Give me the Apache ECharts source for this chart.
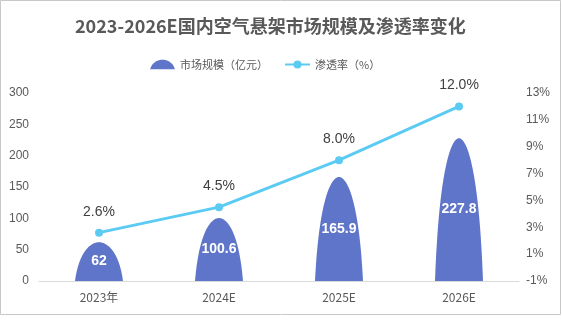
<!DOCTYPE html>
<html><head><meta charset="utf-8">
<script src="https://cdn.jsdelivr.net/npm/echarts@6/dist/echarts.min.js"></script>
<style>html,body{margin:0;padding:0;background:#fff}#c{width:562px;height:324px}</style>
</head><body><div id="c"></div>
<script>
const categories = ['2023年', '2024E', '2025E', '2026E'];
const marketSize = [62, 100.6, 165.9, 227.8];
const penetration = [2.6, 4.5, 8.0, 12.0];
const leftTicks = { min: 0, max: 300, interval: 50 };
const rightTicks = { min: -1, max: 13, interval: 2 };

const mountain = 'path://M0,100 C8,25 32,0 50,0 C68,0 92,25 100,100 Z';
const legendMountain = 'path://M0,38 C10,8 32,0 50,0 C68,0 90,8 100,38 Z';
const chart = echarts.init(document.getElementById('c'));
chart.setOption({
  animation: false,
  title: {
    text: '2023-2026E国内空气悬架市场规模及渗透率变化',
    left: 70, top: 12,
    textStyle: { fontFamily: 'Noto Sans CJK SC', fontSize: 18, fontWeight: 'bold', color: '#595959' }
  },
  graphic: [{ type: 'rect', shape: { x: 0.5, y: 0.5, width: 560, height: 314 }, style: { fill: 'none', stroke: '#c8c8c8', lineWidth: 1 }, silent: true }],
  legend: {
    top: 54, left: 145, itemGap: 16, itemWidth: 25, itemHeight: 10,
    textStyle: { fontFamily: 'Noto Sans CJK SC', fontSize: 11, color: '#595959' },
    data: [{ name: '市场规模（亿元）', icon: legendMountain }, { name: '渗透率（%）' }]
  },
  grid: { left: 39, right: 43, top: 93, bottom: 43 },
  xAxis: {
    type: 'category', data: categories,
    axisLine: { lineStyle: { color: '#d9d9d9' } }, axisTick: { show: false },
    axisLabel: { color: '#595959', fontSize: 12, margin: 10, fontFamily: 'Noto Sans CJK SC' }
  },
  yAxis: [{
    type: 'value', min: leftTicks.min, max: leftTicks.max, interval: leftTicks.interval,
    splitLine: { show: false }, axisLine: { show: false }, axisTick: { show: false },
    axisLabel: { color: '#595959', fontSize: 12, margin: 10 }
  }, {
    type: 'value', min: rightTicks.min, max: rightTicks.max, interval: rightTicks.interval,
    splitLine: { show: false }, axisLine: { show: false }, axisTick: { show: false },
    axisLabel: { color: '#595959', fontSize: 12, margin: 7, formatter: '{value}%' }
  }],
  series: [{
    name: '市场规模（亿元）', type: 'pictorialBar', symbol: mountain, barWidth: 48,
    itemStyle: { color: '#5f75c9' },
    label: { show: true, position: 'inside', color: '#fff', fontSize: 14, fontWeight: 'bold' },
    data: marketSize
  }, {
    name: '渗透率（%）', type: 'line', yAxisIndex: 1, symbol: 'circle', symbolSize: 8,
    lineStyle: { width: 3, color: '#5ccbf3' }, itemStyle: { color: '#5ccbf3' },
    label: { show: true, position: 'top', distance: 10, color: '#404040', fontSize: 14,
      formatter: p => p.value.toFixed(1) + '%' },
    data: penetration
  }]
});
</script></body></html>
